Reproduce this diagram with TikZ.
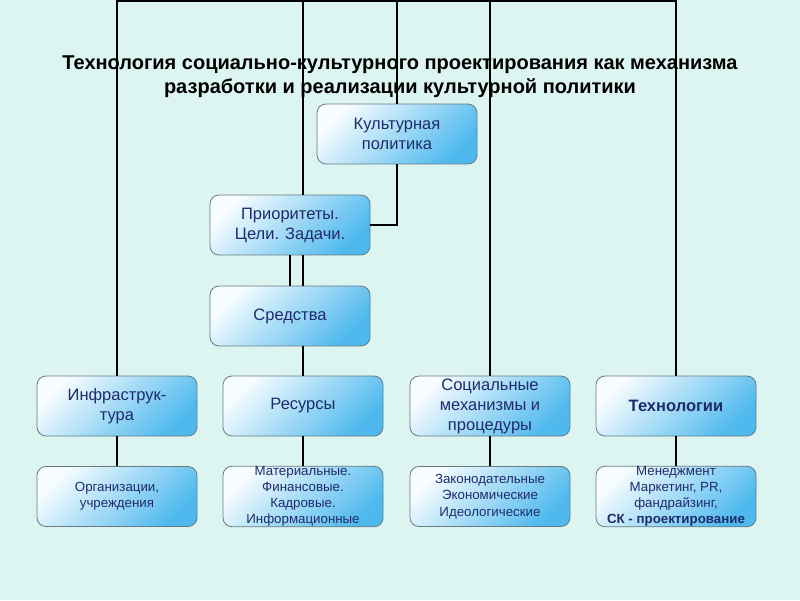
\documentclass[tikz,border=0pt]{standalone}
\usepackage{fontspec}
\setmainfont{Liberation Sans}
\usetikzlibrary{calc}
\definecolor{bgmint}{HTML}{DDF5F1}
\definecolor{boxblue}{HTML}{4FB9EE}
\definecolor{boxlight}{HTML}{F6FCFF}
\definecolor{boxedge}{HTML}{6A7A82}
\definecolor{boxtext}{HTML}{1E2C6A}

\begin{document}
\begin{tikzpicture}[x=1pt,y=1pt,
    block/.style={draw=boxedge,line width=0.8pt,rounded corners=9pt,
      top color=boxlight,bottom color=boxblue,shading angle=45,
      minimum width=160pt,minimum height=60pt,inner sep=2pt,
      align=center,text=boxtext,font=\fontsize{16.5}{20}\selectfont},
    small/.style={block,inner ysep=0pt,font=\fontsize{13.3}{16.2}\selectfont},
    link/.style={line width=2pt,black}]
  \fill[bgmint] (0,0) rectangle (800,600);
  \def\rowA{194}
  \def\rowB{103.5}
  \node[block] (cult) at (397,466) {Культурная\\политика};
  \node[block] (prio) at (290,375) {Приоритеты.\\Цели. Задачи.};
  \node[block] (sred) at (290,284) {Средства};
  \node[block] (infra) at (117,\rowA) {Инфраструк-\\тура};
  \node[block] (res) at (303,\rowA) {Ресурсы};
  \node[block] (soc) at (490,\rowA) {Социальные\\механизмы и\\процедуры};
  \node[block] (tech) at (676,\rowA) {\textbf{Технологии}};
  \node[small] (org) at (117,\rowB) {Организации,\\учреждения};
  \node[small] (mat) at (303,\rowB) {Материальные.\\Финансовые.\\Кадровые.\\Информационные};
  \node[small] (zak) at (490,\rowB) {Законодательные\\Экономические\\Идеологические};
  \node[small] (men) at (676,\rowB) {Менеджмент\\Маркетинг, PR,\\фандрайзинг,\\\textbf{СК - проектирование}};
  \coordinate (top) at (0,598.5);
  \draw[link] (infra.north) |- (top -| tech.north) -- (tech.north);
  \draw[link] (prio.north -| res.north) -- (top -| res.north);
  \draw[link] (cult.north) -- (top -| cult.north);
  \draw[link] (soc.north) -- (top -| soc.north);
  \draw[link] (cult.south) |- (prio.east);
  \draw[link] (prio.south) -- (sred.north);
  \draw[link] (prio.south -| res.north) -- (sred.north -| res.north);
  \draw[link] (sred.south -| res.north) -- (res.north);
  \foreach \a/\b in {infra/org,res/mat,soc/zak,tech/men}
    \draw[link] (\a.south) -- (\b.north);
  \node[font=\bfseries\fontsize{20}{24}\selectfont,align=center] (title) at (400,523)
    {Технология социально-культурного проектирования как механизма\\
     разработки и реализации культурной политики};
\end{tikzpicture}
\end{document}
